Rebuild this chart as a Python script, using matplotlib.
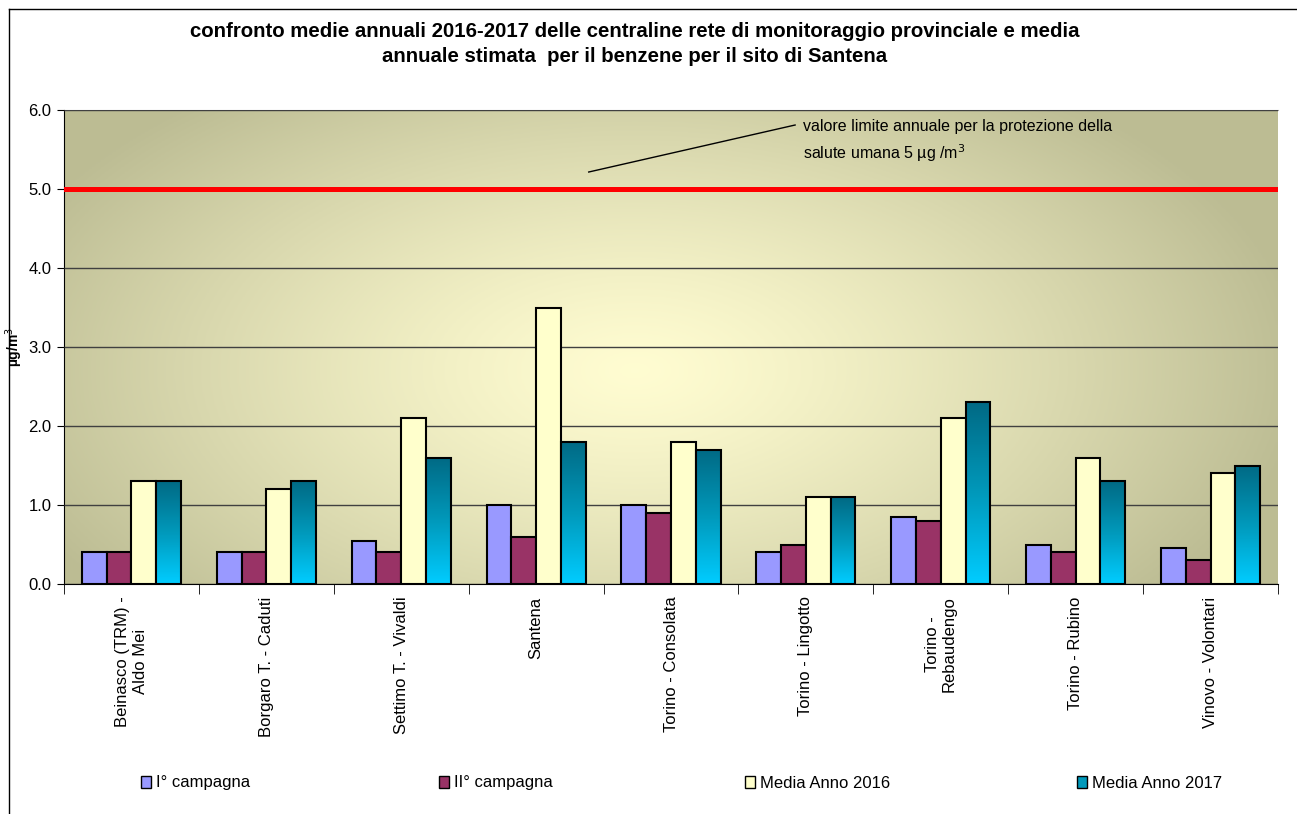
import numpy as np
import matplotlib
matplotlib.use("Agg")
import matplotlib.pyplot as plt
from matplotlib.colors import LinearSegmentedColormap
from matplotlib.patches import Patch
from matplotlib.lines import Line2D

plt.rcParams['font.family'] = ['Liberation Sans', 'DejaVu Sans']

stations = ["Beinasco (TRM) -\nAldo Mei", "Borgaro T. - Caduti", "Settimo T. - Vivaldi",
            "Santena", "Torino - Consolata", "Torino - Lingotto", "Torino -\nRebaudengo",
            "Torino - Rubino", "Vinovo - Volontari"]
campagna_1 = [0.4, 0.4, 0.55, 1.0, 1.0, 0.4, 0.85, 0.5, 0.45]
campagna_2 = [0.4, 0.4, 0.4, 0.6, 0.9, 0.5, 0.8, 0.4, 0.3]
media_2016 = [1.3, 1.2, 2.1, 3.5, 1.8, 1.1, 2.1, 1.6, 1.4]
media_2017 = [1.3, 1.3, 1.6, 1.8, 1.7, 1.1, 2.3, 1.3, 1.5]
series_names = ["I° campagna", "II° campagna", "Media Anno 2016", "Media Anno 2017"]
limit_value = 5.0

W, H = 1297, 814
fig = plt.figure(figsize=(W / 100, H / 100), dpi=100)
ax = fig.add_axes([64 / W, 1 - 584 / H, (1278 - 64) / W, (584 - 110) / H])

# radial-ish background gradient of the plot area
gx, gy = np.meshgrid(np.linspace(0, 1, 300), np.linspace(0, 1, 200))
r = np.sqrt(((gx - 0.47) / 0.55) ** 2 + ((gy - 0.45) / 0.75) ** 2)
r = np.clip(r, 0, 1) ** 1.3
c_in = np.array([1.0, 0.99, 0.82])
c_out = np.array([0.74, 0.74, 0.58])
bg = c_in[None, None, :] * (1 - r[..., None]) + c_out[None, None, :] * r[..., None]
ax.imshow(bg, extent=[0, 1, 0, 1], transform=ax.transAxes, aspect='auto',
          origin='lower', zorder=0)

x = np.arange(len(stations))
w = 0.1835
offs = [-1.5 * w, -0.5 * w, 0.5 * w, 1.5 * w]
colors = ["#9999ff", "#993366", "#ffffcc"]
for vals, off, col in zip([campagna_1, campagna_2, media_2016], offs[:3], colors):
    ax.bar(x + off, vals, w, color=col, edgecolor='black', linewidth=1.5, zorder=3)

teal = LinearSegmentedColormap.from_list("teal", ["#00ccff", "#0099bb", "#006a85"])
grad = np.linspace(0, 1, 100).reshape(-1, 1)
bars17 = ax.bar(x + offs[3], media_2017, w, color='none', edgecolor='black',
                linewidth=1.5, zorder=4)
for b in bars17:
    ax.imshow(grad, extent=[b.get_x(), b.get_x() + b.get_width(), 0, b.get_height()],
              aspect='auto', origin='lower', cmap=teal, zorder=3)

ax.axhline(limit_value, color='#ff0000', linewidth=3.6, zorder=5)
ax.plot([3.39, 4.92], [5.215, 5.81], color='black', linewidth=1, zorder=5)
ax.text(4.98, 5.88, "valore limite annuale per la protezione della\nsalute umana 5 µg /m$^3$",
        fontsize=11.5, va='top', ha='left', linespacing=1.45, zorder=6)

ax.set_xlim(-0.5, len(stations) - 0.5)
ax.set_ylim(0, 6)
ax.set_yticks(np.arange(0, 7, 1))
ax.set_yticklabels([f"{v:.1f}" for v in np.arange(0, 7, 1)], fontsize=12)
ax.yaxis.grid(True, color='#404040', linewidth=1)
ax.set_axisbelow(False)
for gl in ax.get_ygridlines():
    gl.set_zorder(1)

ax.set_xticks(x)
ax.set_xticklabels(stations, rotation=90, fontsize=12, ha='center', va='top')
ax.tick_params(axis='x', which='major', length=0, pad=9)
ax.set_xticks(np.arange(-0.5, len(stations), 1), minor=True)
ax.tick_params(axis='x', which='minor', length=7, direction='out', color='black')
ax.tick_params(axis='y', length=5, direction='out', pad=4)
ax.spines['top'].set_color('#a0a0a0')
ax.spines['right'].set_visible(False)

ax.set_ylabel("µg/m$^3$", fontsize=10, fontweight='bold')
ax.yaxis.set_label_coords(-0.032, 0.5)

fig.text(635 / W, 1 - 22 / H,
         "confronto medie annuali 2016-2017 delle centraline rete di monitoraggio provinciale e media\n"
         "annuale stimata  per il benzene per il sito di Santena",
         ha='center', va='top', fontsize=14.7, fontweight='bold', linespacing=1.42)

# legend items spread along the bottom
handles = [Patch(facecolor=c, edgecolor='black') for c in colors] + \
          [Patch(facecolor="#0099bb", edgecolor='black')]
legend_x = [141, 439, 745, 1077]
for h, name, lx in zip(handles, series_names, legend_x):
    fig.legend([h], [name], loc='center left', bbox_to_anchor=(lx / W, 1 - 783 / H),
               frameon=False, fontsize=12, handlelength=0.6, handleheight=0.7,
               handletextpad=0.3, borderpad=0, borderaxespad=0)

# outer chart border (left and top)
fig.add_artist(Line2D([9 / W, 9 / W], [0, 1 - 9 / H], color='black', linewidth=1))
fig.add_artist(Line2D([9 / W, 1], [1 - 9 / H, 1 - 9 / H], color='black', linewidth=1))

fig.savefig("out.png", dpi=100)
